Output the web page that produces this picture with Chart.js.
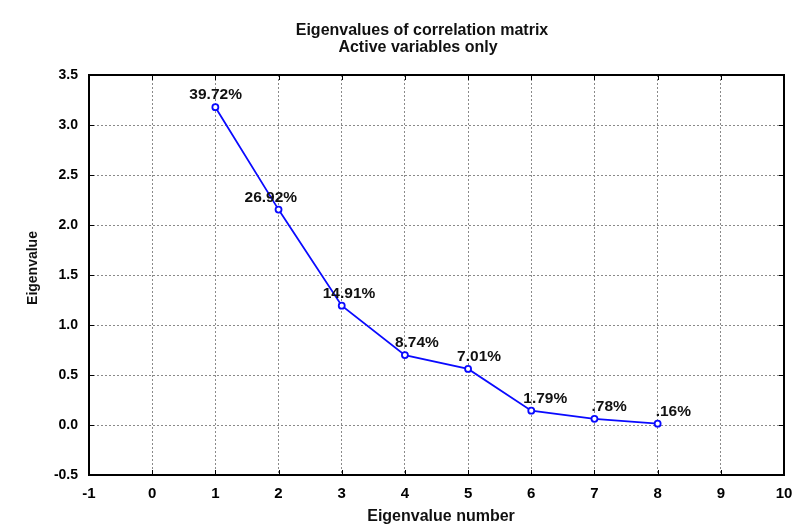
<!DOCTYPE html>
<html>
<head>
<meta charset="utf-8">
<script src="https://cdn.jsdelivr.net/npm/chart.js@4/dist/chart.umd.min.js"></script>
<style>
  html, body { margin: 0; padding: 0; background: #fff; }
  #wrap { width: 793px; height: 531px; }
</style>
</head>
<body>
<div id="wrap"><canvas id="scree"></canvas></div>
<script>
// eigenvalue number vs eigenvalue (scree plot)
const eigenNumbers = [1, 2, 3, 4, 5, 6, 7, 8]
const eigenValues = [3.178, 2.154, 1.193, 0.699, 0.561, 0.143, 0.062, 0.013]
const pctLabels = ['39.72%', '26.92%', '14.91%', '8.74%', '7.01%', '1.79%', '.78%', '.16%']
const titleLines = ['Eigenvalues of correlation matrix', 'Active variables only']

const FONT = '"Liberation Sans", Arial, sans-serif'

// label shift from the point (px), like the original
const labelDx = [-26, -34, -19, -10, -11, -8, -3, -2]

const extras = {
  id: 'extras',
  afterDraw(chart) {
    const ctx = chart.ctx
    const a = chart.chartArea
    const xs = chart.scales.x, ys = chart.scales.y
    ctx.save()
    // frame
    ctx.strokeStyle = '#000'
    ctx.lineWidth = 2
    ctx.strokeRect(a.left, a.top, a.right - a.left, a.bottom - a.top)
    // small inner ticks on the frame
    ctx.lineWidth = 1
    for (let v = -1; v <= 10; v++) {
      const px = Math.round(xs.getPixelForValue(v)) + 0.5
      ctx.beginPath(); ctx.moveTo(px, a.top); ctx.lineTo(px, a.top + 5); ctx.stroke()
      ctx.beginPath(); ctx.moveTo(px, a.bottom); ctx.lineTo(px, a.bottom - 5); ctx.stroke()
    }
    for (let v = -0.5; v <= 3.5; v += 0.5) {
      const py = Math.round(ys.getPixelForValue(v)) + 0.5
      ctx.beginPath(); ctx.moveTo(a.left, py); ctx.lineTo(a.left + 5, py); ctx.stroke()
      ctx.beginPath(); ctx.moveTo(a.right, py); ctx.lineTo(a.right - 5, py); ctx.stroke()
    }
    // percentage labels
    ctx.fillStyle = '#111'
    ctx.font = 'bold 15.5px ' + FONT
    ctx.textAlign = 'left'
    ctx.textBaseline = 'alphabetic'
    eigenNumbers.forEach((n, i) => {
      const px = xs.getPixelForValue(n)
      const py = ys.getPixelForValue(eigenValues[i])
      ctx.fillText(pctLabels[i], px + labelDx[i], py - 8)
    })
    // title
    ctx.textAlign = 'center'
    ctx.font = 'bold 16px ' + FONT
    ctx.fillText(titleLines[0], 422, 35)
    ctx.fillText(titleLines[1], 418, 52)
    // axis titles
    ctx.font = 'bold 16px ' + FONT
    ctx.fillText('Eigenvalue number', 441, 521)
    ctx.save()
    ctx.translate(37, 268)
    ctx.rotate(-Math.PI / 2)
    ctx.font = 'bold 14px ' + FONT
    ctx.fillText('Eigenvalue', 0, 0)
    ctx.restore()
    ctx.restore()
  }
}

new Chart(document.getElementById('scree'), {
  type: 'scatter',
  data: {
    datasets: [{
      data: eigenNumbers.map((n, i) => ({x: n, y: eigenValues[i]})),
      showLine: true,
      borderColor: '#0a0aff',
      borderWidth: 1.8,
      pointRadius: 3,
      pointBorderWidth: 1.8,
      pointBackgroundColor: '#fff',
      pointBorderColor: '#0a0aff'
    }]
  },
  options: {
    responsive: true,
    maintainAspectRatio: false,
    animation: false,
    layout: { padding: { top: 75, right: 9, left: 0, bottom: 0 } },
    plugins: { legend: { display: false }, tooltip: { enabled: false } },
    scales: {
      x: {
        type: 'linear', min: -1, max: 10,
        afterFit(s) { s.height = 56; s.paddingRight = 0; s.paddingLeft = 0 },
        ticks: { stepSize: 1, color: '#000', padding: 10, font: { family: FONT, weight: 'bold', size: 15 } },
        grid: { color: '#8a8a8a', drawTicks: false },
        border: { display: false, dash: [2, 2] }
      },
      y: {
        min: -0.5, max: 3.5,
        afterFit(s) { s.width = 89 },
        ticks: { stepSize: 0.5, color: '#000', padding: 11,
          font: { family: FONT, weight: 'bold', size: 14 },
          callback: v => v.toFixed(1) },
        grid: { color: '#8a8a8a', drawTicks: false },
        border: { display: false, dash: [2, 2] }
      }
    }
  },
  plugins: [extras]
})
</script>
</body>
</html>
